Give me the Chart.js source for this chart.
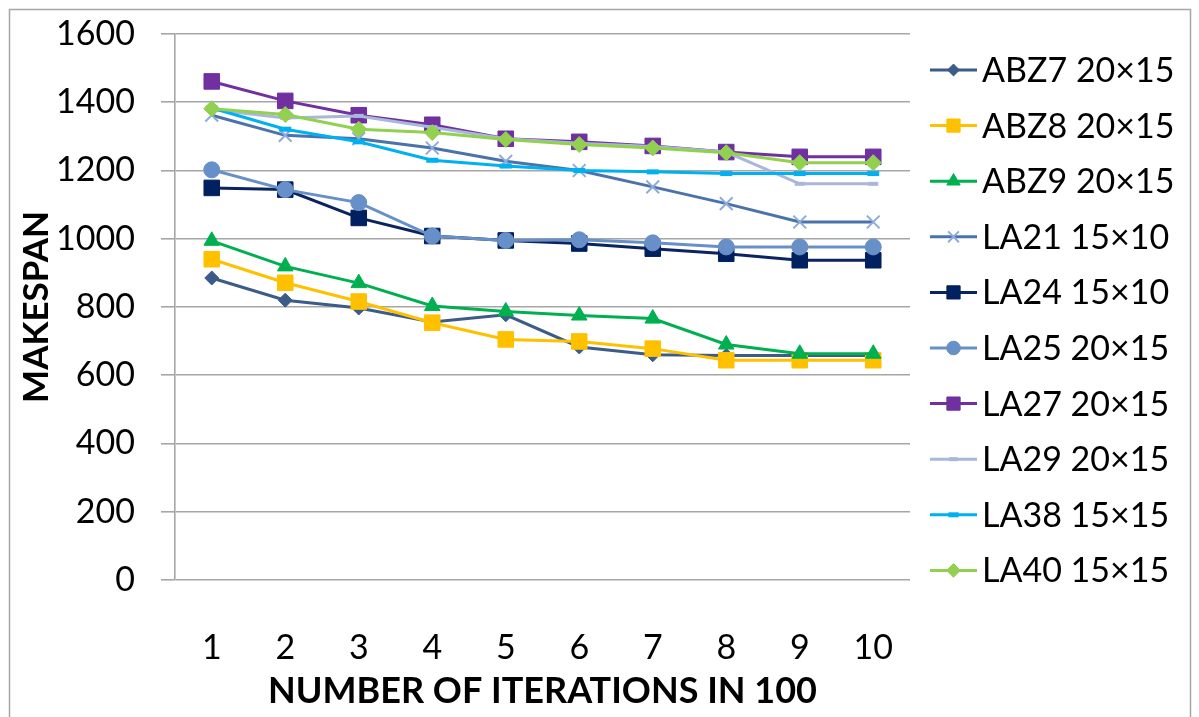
<!DOCTYPE html>
<html>
<head>
<meta charset="utf-8">
<script src="https://cdn.jsdelivr.net/npm/chart.js@4"></script>
<style>
  html, body { margin: 0; padding: 0; background: #ffffff; }
  #wrap { width: 1199px; height: 717px; }
</style>
</head>
<body>
<div id="wrap"><canvas id="c" width="1199" height="717"></canvas></div>
<script>
// Iterations (x 100)
const iterations = ['1', '2', '3', '4', '5', '6', '7', '8', '9', '10'];

// Makespan per benchmark instance
const abz7 = [885, 820, 797, 756, 777, 683, 660, 658, 658, 658];
const abz8 = [940, 871, 816, 754, 705, 699, 678, 644, 644, 644];
const abz9 = [994, 919, 870, 803, 787, 775, 766, 690, 663, 663];
const la21 = [1362, 1303, 1293, 1266, 1227, 1200, 1152, 1103, 1049, 1049];
const la24 = [1149, 1144, 1061, 1008, 995, 986, 971, 956, 937, 937];
const la25 = [1202, 1144, 1106, 1008, 995, 997, 988, 976, 976, 976];
const la27 = [1461, 1404, 1362, 1334, 1293, 1284, 1272, 1254, 1240, 1240];
const la29 = [1379, 1354, 1360, 1327, 1293, 1280, 1270, 1254, 1161, 1161];
const la38 = [1383, 1321, 1284, 1230, 1213, 1200, 1196, 1191, 1191, 1191];
const la40 = [1381, 1364, 1321, 1311, 1291, 1276, 1266, 1252, 1223, 1223];

const seriesNames = ['ABZ7 20×15', 'ABZ8 20×15', 'ABZ9 20×15', 'LA21 15×10', 'LA24 15×10',
                     'LA25 20×15', 'LA27 20×15', 'LA29 20×15', 'LA38 15×15', 'LA40 15×15'];
const seriesValues = [abz7, abz8, abz9, la21, la24, la25, la27, la29, la38, la40];

const yTicks = { min: 0, max: 1600, step: 200 };

// line colour, marker colour, marker style, marker radius, marker border width
const styles = [
  { line: '#3b5b89', mark: '#3b5b89', shape: 'rectRot',  r: 7,  bw: 1 },
  { line: '#ffc000', mark: '#ffc000', shape: 'rect',     r: 11, bw: 1 },
  { line: '#00b050', mark: '#00b050', shape: 'triangle', r: 9,  bw: 1 },
  { line: '#4a73ab', mark: '#8eaadb', shape: 'crossRot', r: 9,  bw: 2 },
  { line: '#0b2361', mark: '#002060', shape: 'rect',     r: 11, bw: 1 },
  { line: '#678fc8', mark: '#678fc8', shape: 'circle',   r: 8,  bw: 1 },
  { line: '#7030a0', mark: '#7030a0', shape: 'rect',     r: 11, bw: 1 },
  { line: '#a8b7da', mark: '#a8b7da', shape: 'line',     r: 5,  bw: 4 },
  { line: '#00b0f0', mark: '#00b0f0', shape: 'line',     r: 6,  bw: 5 },
  { line: '#92d050', mark: '#92d050', shape: 'rectRot',  r: 8,  bw: 1 }
];

const datasets = seriesNames.map((name, i) => ({
  label: name,
  data: seriesValues[i],
  borderColor: styles[i].line,
  backgroundColor: styles[i].mark,
  borderWidth: 3,
  tension: 0,
  pointStyle: styles[i].shape,
  pointRadius: styles[i].r,
  pointHoverRadius: styles[i].r,
  pointBorderColor: styles[i].mark,
  pointBackgroundColor: styles[i].mark,
  pointBorderWidth: styles[i].bw,
  order: seriesNames.length - i   // later series sit on top
}));

const FONT = 'Lato, "Open Sans", sans-serif';
const PAD = { left: 10, right: 289, top: 34, bottom: 0 };

// Light frame around the whole chart
const framePlugin = {
  id: 'frame',
  beforeDraw(chart) {
    const ctx = chart.ctx;
    ctx.save();
    ctx.fillStyle = '#ffffff';
    ctx.fillRect(0, 0, chart.width, chart.height);
    ctx.strokeStyle = '#a6a6a6';
    ctx.lineWidth = 1.5;
    ctx.strokeRect(9.5, 9.5, 1181, 740);
    ctx.restore();
  }
};

// Legend on the right: short line with the series marker, then the name
const sideLegend = {
  id: 'sideLegend',
  afterDraw(chart) {
    const ctx = chart.ctx;
    const x0 = 930, x1 = 977, top = 70, gap = 55.6;
    ctx.save();
    chart.data.datasets.forEach((ds, i) => {
      const y = top + i * gap;
      ctx.strokeStyle = ds.borderColor;
      ctx.lineWidth = 3;
      ctx.beginPath();
      ctx.moveTo(x0, y);
      ctx.lineTo(x1, y);
      ctx.stroke();
      ctx.fillStyle = ds.pointBackgroundColor;
      ctx.strokeStyle = ds.pointBorderColor;
      ctx.lineWidth = ds.pointBorderWidth;
      Chart.helpers.drawPoint(ctx, {
        pointStyle: ds.pointStyle,
        radius: ds.pointRadius * 0.85,
        rotation: 0,
        borderWidth: ds.pointBorderWidth
      }, (x0 + x1) / 2, y);
      ctx.fillStyle = '#000000';
      ctx.font = '34px ' + FONT;
      ctx.textAlign = 'left';
      ctx.textBaseline = 'middle';
      ctx.fillText(ds.label, 982, y + 1);
    });
    ctx.restore();
  }
};

new Chart(document.getElementById('c'), {
  type: 'line',
  data: { labels: iterations, datasets },
  plugins: [framePlugin, sideLegend],
  options: {
    responsive: false,
    animation: false,
    layout: { padding: PAD },
    plugins: { legend: { display: false }, tooltip: { enabled: false } },
    scales: {
      x: {
        type: 'category',
        offset: true,
        grid: { display: false, drawTicks: false },
        border: { display: false },
        ticks: { color: '#000000', font: { family: FONT, size: 34 }, padding: 48, maxRotation: 0 },
        title: {
          display: true,
          text: 'NUMBER OF ITERATIONS IN 100',
          color: '#000000',
          font: { family: FONT, size: 36, weight: 'bold' },
          padding: { top: 0, bottom: 4 }
        },
        afterFit(scale) { scale.height = 717 - 580 - PAD.bottom; }
      },
      y: {
        min: yTicks.min,
        max: yTicks.max,
        ticks: {
          stepSize: yTicks.step,
          color: '#000000',
          font: { family: FONT, size: 34 },
          padding: 26,
          callback: (value) => String(value)
        },
        grid: { color: '#a6a6a6', lineWidth: 1.6, tickLength: 14, drawTicks: true },
        border: { display: true, color: '#a6a6a6', width: 1.6 },
        title: {
          display: true,
          text: 'MAKESPAN',
          color: '#000000',
          font: { family: FONT, size: 35, weight: 'bold' },
          padding: { top: 6, bottom: 0 }
        },
        afterFit(scale) {
          scale.width = 175 - PAD.left;
          // the top label may overhang into the outer padding
          scale.paddingTop = 0;
          scale.paddingBottom = 0;
        }
      }
    }
  }
});
</script>
</body>
</html>
